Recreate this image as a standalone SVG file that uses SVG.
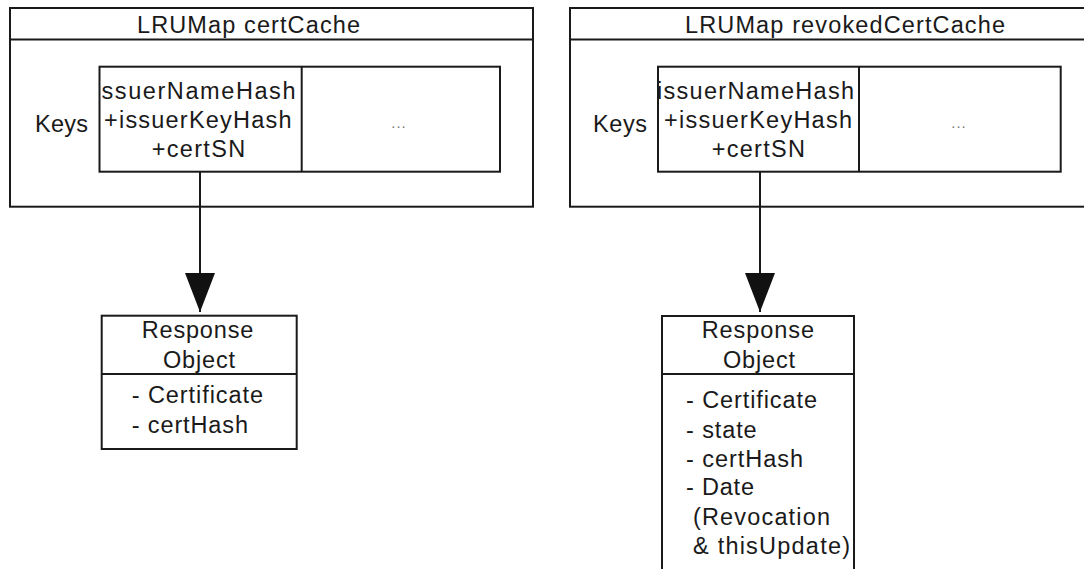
<svg xmlns="http://www.w3.org/2000/svg" width="1084" height="569" viewBox="0 0 1084 569">
<style>
.box{fill:#fff;stroke:#1a1a1a;stroke-width:2}
.ln{stroke:#1a1a1a;stroke-width:2;fill:none}
.t{font-family:"Liberation Sans",Arial,sans-serif;font-size:23.5px;fill:#1a1a1a}
.dots{font-family:"Liberation Sans",Arial,sans-serif;font-size:15px;fill:#777;text-anchor:middle;letter-spacing:1px}
</style>
<defs>
<marker id="arr" markerUnits="userSpaceOnUse" markerWidth="40" markerHeight="32" viewBox="0 0 40 32" refX="39" refY="16" orient="auto">
<path d="M0,1 L39,16 L0,31 z" fill="#111"/>
</marker>
</defs>
<rect width="1084" height="569" fill="#fff"/>

<g id="certCache">
<rect class="box" x="10" y="8" width="523" height="198.7"/>
<line class="ln" x1="10" y1="39.5" x2="533" y2="39.5"/>
<text class="t" x="137" y="33.3" textLength="223" lengthAdjust="spacing">LRUMap certCache</text>
<text class="t" x="35" y="132" textLength="53" lengthAdjust="spacing">Keys</text>
<rect class="box" x="99.5" y="66.7" width="400.5" height="105"/>
<line class="ln" x1="301.7" y1="66.7" x2="301.7" y2="171.7"/>
<text class="t" x="101.5" y="99" textLength="194" lengthAdjust="spacing">ssuerNameHash</text>
<text class="t" x="104" y="127.5" textLength="187.5" lengthAdjust="spacing">+issuerKeyHash</text>
<text class="t" x="151.7" y="156.7" textLength="93.5" lengthAdjust="spacing">+certSN</text>
<text class="dots" x="399" y="128">...</text>
</g>

<g id="revokedCertCache">
<rect class="box" x="570" y="8" width="523" height="198.7"/>
<line class="ln" x1="570" y1="39.5" x2="1093" y2="39.5"/>
<text class="t" x="685" y="33.3" textLength="320" lengthAdjust="spacing">LRUMap revokedCertCache</text>
<text class="t" x="593" y="132" textLength="54" lengthAdjust="spacing">Keys</text>
<rect class="box" x="658" y="66.7" width="402.7" height="105"/>
<line class="ln" x1="859" y1="66.7" x2="859" y2="171.7"/>
<text class="t" x="657" y="99" textLength="197" lengthAdjust="spacing">issuerNameHash</text>
<text class="t" x="664" y="127.5" textLength="188" lengthAdjust="spacing">+issuerKeyHash</text>
<text class="t" x="711.7" y="156.7" textLength="93.3" lengthAdjust="spacing">+certSN</text>
<text class="dots" x="959" y="128">...</text>
</g>

<g id="responseLeft">
<rect class="box" x="101.7" y="315.7" width="195" height="133.3"/>
<line class="ln" x1="101.7" y1="374" x2="296.7" y2="374"/>
<text class="t" x="141.7" y="338" textLength="111.6" lengthAdjust="spacing">Response</text>
<text class="t" x="163" y="368" textLength="72" lengthAdjust="spacing">Object</text>
<text class="t" x="131.7" y="403.3" textLength="131.3" lengthAdjust="spacing">- Certificate</text>
<text class="t" x="131.7" y="433.3" textLength="116.3" lengthAdjust="spacing">- certHash</text>
</g>

<g id="responseRight">
<rect class="box" x="662" y="316" width="192" height="270"/>
<line class="ln" x1="662" y1="374" x2="854" y2="374"/>
<text class="t" x="701.7" y="338" textLength="112.3" lengthAdjust="spacing">Response</text>
<text class="t" x="723" y="367.5" textLength="72" lengthAdjust="spacing">Object</text>
<text class="t" x="686" y="408.3" textLength="131" lengthAdjust="spacing">- Certificate</text>
<text class="t" x="686" y="437.5" textLength="70.7" lengthAdjust="spacing">- state</text>
<text class="t" x="686" y="466.7" textLength="117" lengthAdjust="spacing">- certHash</text>
<text class="t" x="686" y="495.3" textLength="68" lengthAdjust="spacing">- Date</text>
<text class="t" x="693" y="525" textLength="137" lengthAdjust="spacing">(Revocation</text>
<text class="t" x="693" y="554.3" textLength="157" lengthAdjust="spacing">&amp; thisUpdate)</text>
</g>

<g id="connectors">
<line class="ln" x1="200" y1="171.7" x2="200" y2="312" marker-end="url(#arr)"/>
<line class="ln" x1="760" y1="171.7" x2="760" y2="312" marker-end="url(#arr)"/>
</g>
</svg>
